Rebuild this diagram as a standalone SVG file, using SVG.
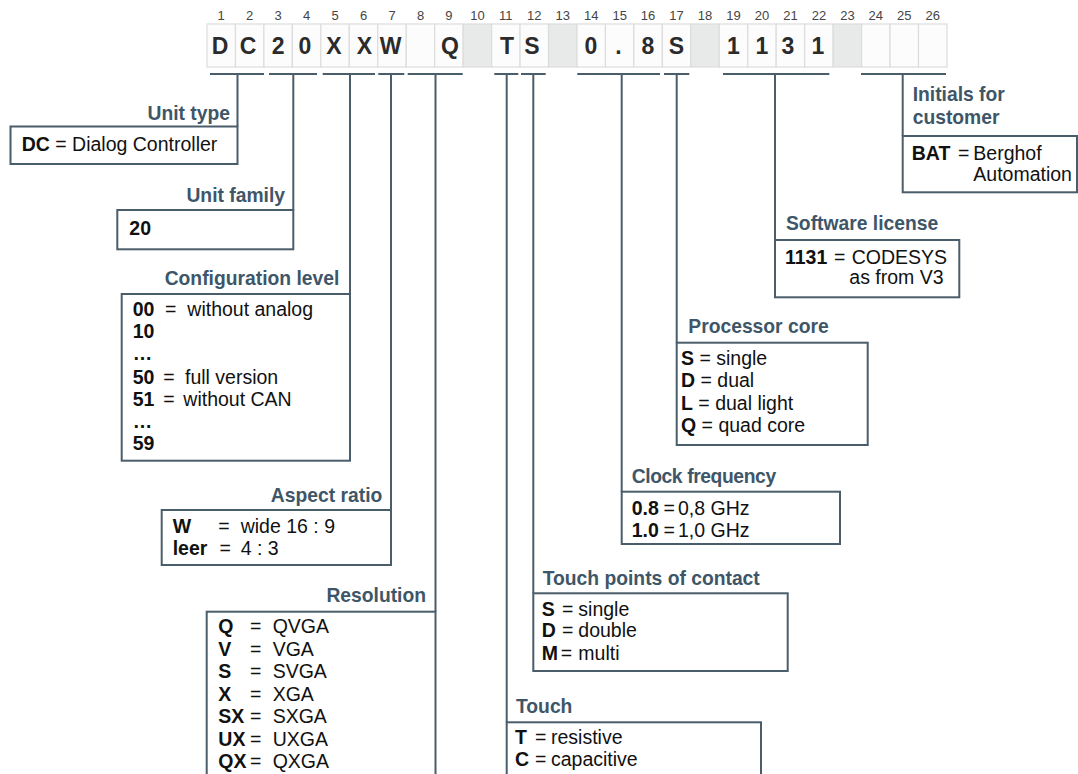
<svg xmlns="http://www.w3.org/2000/svg" width="1078" height="774" viewBox="0 0 1078 774">
<style>
.cell{fill:#fcfcfc;stroke:#dcdcdc;stroke-width:1.2}
.gcell{fill:#e8e9e9;stroke:#dcdcdc;stroke-width:1.2}
.num{font-family:"Liberation Sans",Arial,sans-serif;font-size:13px;fill:#444;text-anchor:middle}
.ch{font-family:"Liberation Sans",Arial,sans-serif;font-size:23px;font-weight:bold;fill:#2b2b2b;text-anchor:middle}
.box{fill:#ffffff;stroke:#4a5d6b;stroke-width:2}
.ttl{font-family:"Liberation Sans",Arial,sans-serif;font-size:19.3px;font-weight:bold;fill:#3e5668}
.ttlr{font-family:"Liberation Sans",Arial,sans-serif;font-size:19.3px;font-weight:bold;fill:#3e5668;text-anchor:end}
.t{font-family:"Liberation Sans",Arial,sans-serif;font-size:19.5px;fill:#111}
.b{font-weight:bold}
.con{fill:none;stroke:#4a5d6b;stroke-width:2}
</style>
<rect width="1078" height="774" fill="#ffffff"/>
<g id="code">
<rect class="cell" x="207" y="24" width="28.46" height="43"/>
<rect class="cell" x="235.46" y="24" width="28.46" height="43"/>
<rect class="cell" x="263.92" y="24" width="28.46" height="43"/>
<rect class="cell" x="292.38" y="24" width="28.46" height="43"/>
<rect class="cell" x="320.84" y="24" width="28.46" height="43"/>
<rect class="cell" x="349.3" y="24" width="28.46" height="43"/>
<rect class="cell" x="377.76" y="24" width="28.46" height="43"/>
<rect class="cell" x="406.22" y="24" width="28.46" height="43"/>
<rect class="cell" x="434.68" y="24" width="28.46" height="43"/>
<rect class="gcell" x="463.14" y="24" width="28.46" height="43"/>
<rect class="cell" x="491.6" y="24" width="28.46" height="43"/>
<rect class="cell" x="520.06" y="24" width="28.46" height="43"/>
<rect class="gcell" x="548.52" y="24" width="28.46" height="43"/>
<rect class="cell" x="576.98" y="24" width="28.46" height="43"/>
<rect class="cell" x="605.44" y="24" width="28.46" height="43"/>
<rect class="cell" x="633.9" y="24" width="28.46" height="43"/>
<rect class="cell" x="662.36" y="24" width="28.46" height="43"/>
<rect class="gcell" x="690.82" y="24" width="28.46" height="43"/>
<rect class="cell" x="719.28" y="24" width="28.46" height="43"/>
<rect class="cell" x="747.74" y="24" width="28.46" height="43"/>
<rect class="cell" x="776.2" y="24" width="28.46" height="43"/>
<rect class="cell" x="804.66" y="24" width="28.46" height="43"/>
<rect class="gcell" x="833.12" y="24" width="28.46" height="43"/>
<rect class="cell" x="861.58" y="24" width="28.46" height="43"/>
<rect class="cell" x="890.04" y="24" width="28.46" height="43"/>
<rect class="cell" x="918.5" y="24" width="28.46" height="43"/>
<text class="num" y="20"><tspan x="221.2">1</tspan><tspan x="249.7">2</tspan><tspan x="278.2">3</tspan><tspan x="306.6">4</tspan><tspan x="335.1">5</tspan><tspan x="363.5">6</tspan><tspan x="392">7</tspan><tspan x="420.5">8</tspan><tspan x="448.9">9</tspan><tspan x="477.4">10</tspan><tspan x="505.8">11</tspan><tspan x="534.3">12</tspan><tspan x="562.8">13</tspan><tspan x="591.2">14</tspan><tspan x="619.7">15</tspan><tspan x="648.1">16</tspan><tspan x="676.6">17</tspan><tspan x="705.1">18</tspan><tspan x="733.5">19</tspan><tspan x="762">20</tspan><tspan x="790.4">21</tspan><tspan x="818.9">22</tspan><tspan x="847.4">23</tspan><tspan x="875.8">24</tspan><tspan x="904.3">25</tspan><tspan x="932.7">26</tspan></text>
<text class="ch" y="54"><tspan x="220">D</tspan><tspan x="248">C</tspan><tspan x="278.2">2</tspan><tspan x="305">0</tspan><tspan x="334">X</tspan><tspan x="364.5">X</tspan><tspan x="390.5">W</tspan><tspan x="450">Q</tspan><tspan x="507">T</tspan><tspan x="532">S</tspan><tspan x="591">0</tspan><tspan x="618.5">.</tspan><tspan x="648">8</tspan><tspan x="676.5">S</tspan><tspan x="733.5">1</tspan><tspan x="762">1</tspan><tspan x="788">3</tspan><tspan x="818">1</tspan></text>
</g>
<g id="connectors">
<path class="con" d="M210 74H264M237.5 74V126.5"/>
<path class="con" d="M269 74H317M293.3 74V210"/>
<path class="con" d="M322.7 74H375M350 74V294"/>
<path class="con" d="M378.3 74H404.3M391 74V510"/>
<path class="con" d="M407.7 74H462.7M435.5 74V611.7"/>
<path class="con" d="M494.3 74H518.3M506.7 74V722.3"/>
<path class="con" d="M521 74H545.7M533.3 74V593.3"/>
<path class="con" d="M577.3 74H660M621.7 74V491.7"/>
<path class="con" d="M664 74H689.3M676.7 74V342.7"/>
<path class="con" d="M723 74H829.3M775 74V240"/>
<path class="con" d="M861 74H946M902.7 74V136"/>
</g>
<g id="unit-type">
<text class="ttlr" x="230" y="119.5">Unit type</text>
<rect class="box" x="10.5" y="126.5" width="227" height="37.5"/>
<text class="t" x="21.7" y="150.7"><tspan class="b">DC</tspan> = Dialog Controller</text>
</g>
<g id="unit-family">
<text class="ttlr" x="285" y="201.7">Unit family</text>
<rect class="box" x="117.3" y="210" width="176" height="39.3"/>
<text class="t b" x="129.3" y="235">20</text>
</g>
<g id="configuration-level">
<text class="ttlr" x="339.3" y="285">Configuration level</text>
<rect class="box" x="121.7" y="294" width="228.3" height="166.7"/>
<text class="t" y="316"><tspan class="b" x="132.7">00</tspan><tspan x="165">=</tspan><tspan x="187.3">without analog</tspan></text>
<text class="t b" x="132.7" y="338.3">10</text>
<text class="t b" x="132.7" y="360">…</text>
<text class="t" y="384"><tspan class="b" x="132.7">50</tspan><tspan x="163.3">=</tspan><tspan x="185">full version</tspan></text>
<text class="t" y="405.7"><tspan class="b" x="132.7">51</tspan><tspan x="163.3">=</tspan><tspan x="183.3">without CAN</tspan></text>
<text class="t b" x="132.7" y="427.7">…</text>
<text class="t b" x="132.7" y="450">59</text>
</g>
<g id="aspect-ratio">
<text class="ttlr" x="382.3" y="501.7">Aspect ratio</text>
<rect class="box" x="161.7" y="510" width="229.3" height="55"/>
<text class="t" y="532.7"><tspan class="b" x="172.7">W</tspan><tspan x="218.3">=</tspan><tspan x="240.7">wide 16 : 9</tspan></text>
<text class="t" y="555"><tspan class="b" x="172.7">leer</tspan><tspan x="219.5">=</tspan><tspan x="240.7">4 : 3</tspan></text>
</g>
<g id="resolution">
<text class="ttlr" x="426" y="601.7">Resolution</text>
<rect class="box" x="206.7" y="611.7" width="228.8" height="180"/>
<text class="t" y="633.3"><tspan class="b" x="218.3">Q</tspan><tspan x="250">=</tspan><tspan x="272.7">QVGA</tspan></text>
<text class="t" y="656"><tspan class="b" x="218.3">V</tspan><tspan x="250">=</tspan><tspan x="272.7">VGA</tspan></text>
<text class="t" y="678.3"><tspan class="b" x="218.3">S</tspan><tspan x="250">=</tspan><tspan x="272.7">SVGA</tspan></text>
<text class="t" y="700.7"><tspan class="b" x="218.3">X</tspan><tspan x="250">=</tspan><tspan x="272.7">XGA</tspan></text>
<text class="t" y="722.7"><tspan class="b" x="218.3">SX</tspan><tspan x="250">=</tspan><tspan x="272.7">SXGA</tspan></text>
<text class="t" y="745.7"><tspan class="b" x="218.3">UX</tspan><tspan x="250">=</tspan><tspan x="272.7">UXGA</tspan></text>
<text class="t" y="767.7"><tspan class="b" x="218.3">QX</tspan><tspan x="250">=</tspan><tspan x="272.7">QXGA</tspan></text>
</g>
<g id="touch">
<text class="ttl" x="516" y="712.7">Touch</text>
<rect class="box" x="506.7" y="722.3" width="254.3" height="70"/>
<text class="t" y="744.3"><tspan class="b" x="515">T</tspan><tspan x="535">=</tspan><tspan x="551">resistive</tspan></text>
<text class="t" y="765.7"><tspan class="b" x="515">C</tspan><tspan x="535">=</tspan><tspan x="551">capacitive</tspan></text>
</g>
<g id="touch-points">
<text class="ttl" x="542.7" y="585">Touch points of contact</text>
<rect class="box" x="533.3" y="593.3" width="254.4" height="77.7"/>
<text class="t" y="615.7"><tspan class="b" x="541.7">S</tspan><tspan x="562">=</tspan><tspan x="578.3">single</tspan></text>
<text class="t" y="637.3"><tspan class="b" x="541.7">D</tspan><tspan x="562">=</tspan><tspan x="578.3">double</tspan></text>
<text class="t" y="660"><tspan class="b" x="541.7">M</tspan><tspan x="560.7">=</tspan><tspan x="578.3">multi</tspan></text>
</g>
<g id="clock-frequency">
<text class="ttl" x="631.7" y="483.3" letter-spacing="-0.4">Clock frequency</text>
<rect class="box" x="621.7" y="491.7" width="218.3" height="52.3"/>
<text class="t" y="515"><tspan class="b" x="631.7">0.8</tspan><tspan x="663.5">=</tspan><tspan x="678">0,8 GHz</tspan></text>
<text class="t" y="536.5"><tspan class="b" x="631.7">1.0</tspan><tspan x="663.5">=</tspan><tspan x="678">1,0 GHz</tspan></text>
</g>
<g id="processor-core">
<text class="ttl" x="688.3" y="333.3">Processor core</text>
<rect class="box" x="676.7" y="342.7" width="191" height="102.3"/>
<text class="t" x="681" y="365"><tspan class="b">S</tspan> = single</text>
<text class="t" x="681" y="387.3"><tspan class="b">D</tspan> = dual</text>
<text class="t" x="681" y="410"><tspan class="b">L</tspan> = dual light</text>
<text class="t" x="681" y="432.3"><tspan class="b">Q</tspan> = quad core</text>
</g>
<g id="software-license">
<text class="ttl" x="786" y="230">Software license</text>
<rect class="box" x="775" y="240" width="184.3" height="57.3"/>
<text class="t" y="264"><tspan class="b" x="785">1131</tspan><tspan x="834">=</tspan><tspan x="851.7">CODESYS</tspan></text>
<text class="t" x="849.3" y="284">as from V3</text>
</g>
<g id="initials">
<text class="ttl" x="912.7" y="100.7">Initials for</text>
<text class="ttl" x="912.7" y="124">customer</text>
<rect class="box" x="902.7" y="136" width="174.3" height="56.3"/>
<text class="t" y="160"><tspan class="b" x="911.7">BAT</tspan><tspan x="958">=</tspan><tspan x="973.3">Berghof</tspan></text>
<text class="t" x="973.3" y="180.7">Automation</text>
</g>
</svg>
